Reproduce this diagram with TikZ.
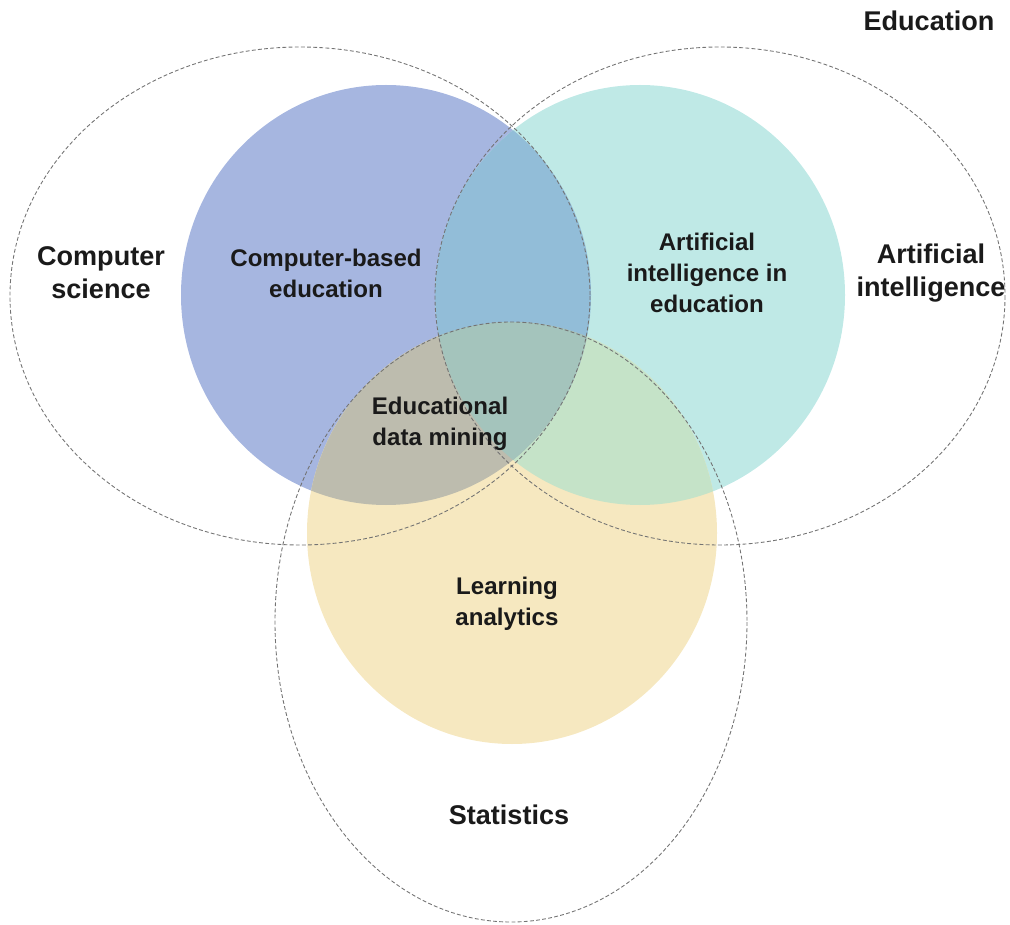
\documentclass[tikz,border=0pt]{standalone}
\usepackage{fontspec}
\setmainfont{Liberation Sans}
\usepackage{tikz}

\definecolor{cbeblue}{HTML}{A6B6E0}
\definecolor{aiedcyan}{HTML}{BFE9E6}
\definecolor{lagold}{HTML}{F6E8C0}
\definecolor{bluecyan}{HTML}{92BDD8}
\definecolor{blueyellow}{HTML}{BDBCAE}
\definecolor{cyanyellow}{HTML}{C5E3C8}
\definecolor{edmmix}{HTML}{A4C4BC}
\definecolor{labeltext}{HTML}{1A1A1A}

\tikzset{
  field/.style={draw=black!55, line width=0.5pt, dash pattern=on 2.2pt off 1.3pt},
  outerlabel/.style={font=\bfseries\fontsize{15.4}{18.8}\selectfont, align=center, text=labeltext},
  innerlabel/.style={font=\bfseries\fontsize{13.7}{17.6}\selectfont, align=center, text=labeltext}
}

\begin{document}
\begin{tikzpicture}[x=0.02cm, y=-0.02cm]
    \useasboundingbox (0,0) rectangle (1010,925);
    % coloured circles
    \fill[cbeblue] (386,295) ellipse [x radius=205, y radius=210];
    \fill[aiedcyan] (640,295) ellipse [x radius=205, y radius=210];
    \fill[lagold] (512,533) ellipse [x radius=205, y radius=211];
    % overlaps
    \begin{scope}
        \clip (640,295) ellipse [x radius=205, y radius=210];
        \fill[cyanyellow] (512,533) ellipse [x radius=205, y radius=211];
    \end{scope}
    \begin{scope}
        \clip (386,295) ellipse [x radius=205, y radius=210];
        \fill[bluecyan] (640,295) ellipse [x radius=205, y radius=210];
        \fill[blueyellow] (512,533) ellipse [x radius=205, y radius=211];
        \clip (640,295) ellipse [x radius=205, y radius=210];
        \fill[edmmix] (512,533) ellipse [x radius=205, y radius=211];
    \end{scope}
    % dashed fields
    \draw[field] (300,296) ellipse [x radius=290, y radius=249];
    \draw[field] (720,296) ellipse [x radius=285, y radius=249];
    \draw[field] (511,622) ellipse [x radius=236, y radius=300];
    % labels
    \node[outerlabel] (edu) at (929,21) {Education};
    \node[outerlabel] (cs) at (101,273) {Computer\\science};
    \node[outerlabel] (ai) at (931,273) {Artificial\\intelligence};
    \node[outerlabel] (stat) at (509,815) {Statistics};
    \node[innerlabel] (cbe) at (326,273) {Computer-based\\education};
    \node[innerlabel] (aied) at (707,273) {Artificial\\intelligence in\\education};
    \node[innerlabel] (edm) at (440,424) {Educational\\data mining};
    \node[innerlabel] (la) at (507,604) {Learning\\analytics};
\end{tikzpicture}
\end{document}
